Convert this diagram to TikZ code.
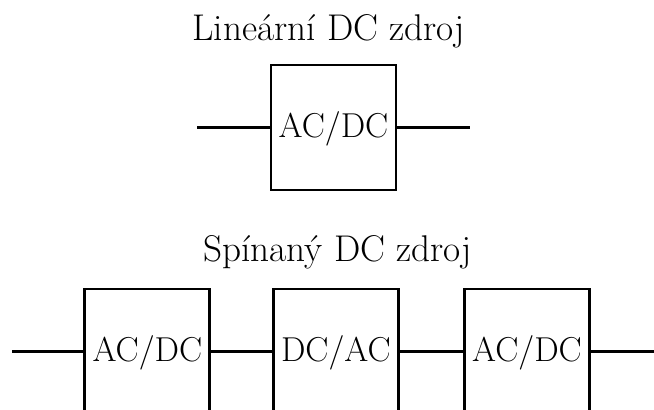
\documentclass[tikz,border=0pt]{standalone}
\begin{document}
\begin{tikzpicture}[x=0.5pt,y=-0.5pt,
  blk/.style={draw,line width=1.45pt,minimum width=62.5pt,minimum height=62.5pt,inner sep=0pt,text height=14pt,text depth=4pt,font=\fontsize{17.28}{20}\selectfont},
  wire/.style={line width=1.45pt},
  ttl/.style={anchor=base west,inner sep=0pt,font=\fontsize{18.6}{22}\selectfont}]
\useasboundingbox (0,0) rectangle (654,410);
\clip (0,0) rectangle (654,410);
% top
\node[ttl] (t1) at (192,41) {Lineární DC zdroj};
\node[blk] (a) at (333.5,127.5) {AC/DC};
\coordinate (ain) at (197,127.5);
\coordinate (aout) at (470,127.5);
\draw[wire] (ain) -- (a.west);
\draw[wire] (a.east) -- (aout);
% bottom
\node[ttl] (t2) at (203,262) {Spínaný DC zdroj};
\node[blk] (b1) at (147.4,351.5) {AC/DC};
\node[blk] (b2) at (335.8,351.5) {DC/AC};
\node[blk] (b3) at (527,351.5) {AC/DC};
\coordinate (bin) at (12,351.5);
\coordinate (bout) at (660,351.5);
\draw[wire] (bin) -- (b1.west);
\draw[wire] (b1.east) -- (b2.west);
\draw[wire] (b2.east) -- (b3.west);
\draw[wire] (b3.east) -- (bout);
\end{tikzpicture}
\end{document}
